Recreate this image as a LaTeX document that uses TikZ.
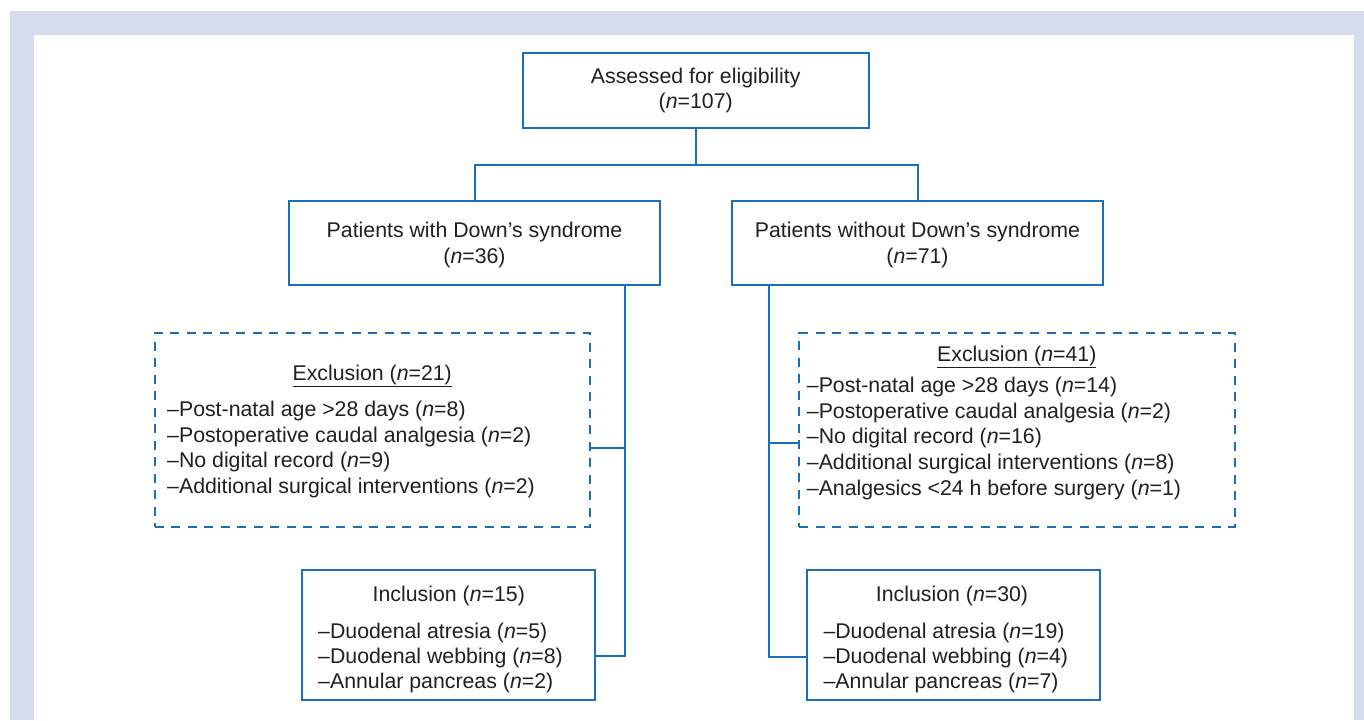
\documentclass[tikz,border=0pt]{standalone}
\usepackage{fontspec}
\setmainfont{Liberation Sans}
\definecolor{framecol}{HTML}{D4DCEE}
\definecolor{lineblue}{HTML}{1C6EB7}
\definecolor{ink}{HTML}{231F20}
\begin{document}
\begin{tikzpicture}[x=1pt,y=-1pt,
  box/.style={draw=lineblue, line width=2pt, fill=white, inner sep=0pt},
  dbox/.style={draw=lineblue, line width=2pt, dash pattern=on 9pt off 7.5pt, inner sep=0pt},
  txt/.style={inner sep=0pt, text=ink, font=\fontsize{21.3}{25.5}\selectfont},
  conn/.style={draw=lineblue, line width=2pt}]
\useasboundingbox (0,0) rectangle (1364,720);
\fill[framecol] (10,11) rectangle (1364,720);
\fill[white] (34,35) rectangle (1354,720);

% boxes
\node[box, minimum width=346pt, minimum height=75.6pt] (top) at (695.7,90.5) {};
\node[box, minimum width=371pt, minimum height=84pt] (lds) at (474.5,243) {};
\node[box, minimum width=370.4pt, minimum height=84pt] (rds) at (917.5,243) {};
\node[dbox, minimum width=435.3pt, minimum height=193.4pt] (lexc) at (372.35,430) {};
\node[dbox, minimum width=435.7pt, minimum height=193.4pt] (rexc) at (1017.15,430) {};
\node[box, minimum width=292.7pt, minimum height=130pt] (linc) at (448.65,635) {};
\node[box, minimum width=293.3pt, minimum height=130pt] (rinc) at (953.35,635) {};

% texts
\node[txt, anchor=base] (topa) at (695.7,83.3) {Assessed for eligibility};
\node[txt, anchor=base] (topb) at (695.7,108.3) {(\textit{n}=107)};
\node[txt, anchor=base] (ldsa) at (474.5,237.3) {Patients with Down’s syndrome};
\node[txt, anchor=base] (ldsb) at (474.5,263.3) {(\textit{n}=36)};
\node[txt, anchor=base] (rdsa) at (917.5,237.3) {Patients without Down’s syndrome};
\node[txt, anchor=base] (rdsb) at (917.5,263.3) {(\textit{n}=71)};

\node[txt, anchor=base] (lext) at (372.2,380) {\underline{Exclusion (\textit{n}=21)}};
\node[txt, anchor=base west] (lex1) at (167,416.7) {\textendash Post-natal age >28 days (\textit{n}=8)};
\node[txt, anchor=base west] (lex2) at (167,442.3) {\textendash Postoperative caudal analgesia (\textit{n}=2)};
\node[txt, anchor=base west] (lex3) at (167,467.9) {\textendash No digital record (\textit{n}=9)};
\node[txt, anchor=base west] (lex4) at (167,493.5) {\textendash Additional surgical interventions (\textit{n}=2)};

\node[txt, anchor=base] (rext) at (1016.8,361.7) {\underline{Exclusion (\textit{n}=41)}};
\node[txt, anchor=base west] (rex1) at (806.7,392.7) {\textendash Post-natal age >28 days (\textit{n}=14)};
\node[txt, anchor=base west] (rex2) at (806.7,418.3) {\textendash Postoperative caudal analgesia (\textit{n}=2)};
\node[txt, anchor=base west] (rex3) at (806.7,443.9) {\textendash No digital record (\textit{n}=16)};
\node[txt, anchor=base west] (rex4) at (806.7,469.5) {\textendash Additional surgical interventions (\textit{n}=8)};
\node[txt, anchor=base west] (rex5) at (806.7,495.1) {\textendash Analgesics <24 h before surgery (\textit{n}=1)};

\node[txt, anchor=base] (lint) at (448.8,601.7) {Inclusion (\textit{n}=15)};
\node[txt, anchor=base west] (lin1) at (318,638.3) {\textendash Duodenal atresia (\textit{n}=5)};
\node[txt, anchor=base west] (lin2) at (318,663.3) {\textendash Duodenal webbing (\textit{n}=8)};
\node[txt, anchor=base west] (lin3) at (318,688.3) {\textendash Annular pancreas (\textit{n}=2)};

\node[txt, anchor=base] (rint) at (952,601.7) {Inclusion (\textit{n}=30)};
\node[txt, anchor=base west] (rin1) at (823.3,638.3) {\textendash Duodenal atresia (\textit{n}=19)};
\node[txt, anchor=base west] (rin2) at (823.3,663.3) {\textendash Duodenal webbing (\textit{n}=4)};
\node[txt, anchor=base west] (rin3) at (823.3,688.3) {\textendash Annular pancreas (\textit{n}=7)};

% connectors
\coordinate (split) at (695.7,164.5);
\draw[conn] (top.south) -- (split);
\draw[conn] (lds.north) |- (split) -| (rds.north);

\coordinate (lvt) at (625,285);
\coordinate (lvj) at (625,448.3);
\coordinate (lvb) at (625,656);
\draw[conn] (lvt) -- (lvb) -- (linc.east |- lvb);
\draw[conn] (lexc.east |- lvj) -- (lvj);

\coordinate (rvt) at (769.3,285);
\coordinate (rvj) at (769.3,442.7);
\coordinate (rvb) at (769.3,656.5);
\draw[conn] (rvt) -- (rvb) -- (rinc.west |- rvb);
\draw[conn] (rvj) -- (rexc.west |- rvj);
\end{tikzpicture}
\end{document}
